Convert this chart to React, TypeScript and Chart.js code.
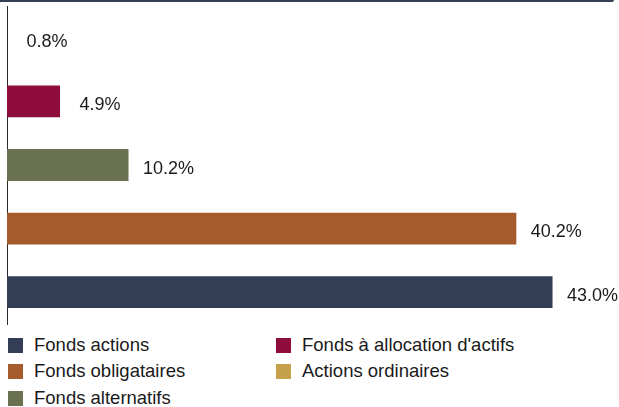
import React, { useEffect, useRef } from "react";
import { Chart, registerables } from "chart.js";

Chart.register(...registerables);

const categories = [
  "Actions ordinaires",
  "Fonds à allocation d'actifs",
  "Fonds alternatifs",
  "Fonds obligataires",
  "Fonds actions",
];
const values = [0.8, 4.9, 10.2, 40.2, 43.0];
const barColors = ["#c6a14c", "#8e0d3d", "#6a7150", "#a65b2c", "#343d56"];

const legendLabels = [
  "Fonds actions",
  "Fonds à allocation d'actifs",
  "Fonds obligataires",
  "Actions ordinaires",
  "Fonds alternatifs",
];
const legendColors = ["#343d56", "#8e0d3d", "#a65b2c", "#c6a14c", "#6a7150"];

const FONT = "Arial, 'Liberation Sans', sans-serif";

const valueLabelPlugin = {
  id: "valueLabels",
  afterDatasetsDraw(chart: any) {
    const ctx = chart.ctx;
    const meta = chart.getDatasetMeta(0);
    ctx.save();
    ctx.font = `18px ${FONT}`;
    ctx.fillStyle = "#1a1a1a";
    ctx.textAlign = "center";
    ctx.textBaseline = "alphabetic";
    meta.data.forEach((el: any, i: number) => {
      const v = chart.data.datasets[0].data[i] as number;
      ctx.fillText(v.toFixed(1) + "%", el.x + 40, el.y + 8.7);
    });
    ctx.restore();
  },
};

function BarChart() {
  const ref = useRef<HTMLCanvasElement>(null);
  useEffect(() => {
    if (!ref.current) return;
    const chart = new Chart(ref.current, {
      type: "bar",
      data: {
        labels: categories,
        datasets: [
          {
            data: values,
            backgroundColor: barColors,
            borderWidth: 0,
            barPercentage: 0.5,
            categoryPercentage: 1,
          },
        ],
      },
      options: {
        indexAxis: "y",
        animation: false,
        responsive: false,
        events: [],
        layout: { padding: { left: 7, right: 7, top: 6, bottom: 6 } },
        plugins: { legend: { display: false }, tooltip: { enabled: false } },
        scales: {
          x: { display: false, min: 0.8, max: 47.6 },
          y: {
            z: 1,
            ticks: { display: false },
            grid: { display: false, drawTicks: false },
            border: { display: true, color: "#2a2a2a", width: 1 },
          },
        },
      },
      plugins: [valueLabelPlugin],
    });
    return () => chart.destroy();
  }, []);
  return <canvas ref={ref} width={619} height={330} style={{ display: "block" }} />;
}

export default function App() {
  const rowCenters = [345, 371.5, 398];
  return (
    <div
      style={{
        position: "absolute",
        left: 0,
        top: 0,
        width: 619,
        height: 407,
        overflow: "hidden",
        background: "#fff",
        fontFamily: FONT,
      }}
    >
      <div
        style={{
          position: "absolute",
          left: 0,
          top: 0,
          width: 614,
          height: 2,
          background: "#363f55",
          borderBottomRightRadius: 2,
        }}
      />
      <div style={{ position: "absolute", left: 0, top: 0 }}>
        <BarChart />
      </div>
      {legendLabels.map((lab, i) => {
        const col = i % 2;
        const row = Math.floor(i / 2);
        const cy = rowCenters[row];
        const bx = col === 0 ? 8 : 276;
        return (
          <React.Fragment key={lab}>
            <div
              style={{
                position: "absolute",
                left: bx,
                top: cy - 7.5,
                width: 15,
                height: 15,
                background: legendColors[i],
              }}
            />
            <div
              style={{
                position: "absolute",
                left: bx + 26,
                top: cy - 9.3,
                fontSize: 18.5,
                lineHeight: "18.5px",
                color: "#1a1a1a",
                whiteSpace: "nowrap",
              }}
            >
              {lab}
            </div>
          </React.Fragment>
        );
      })}
    </div>
  );
}
